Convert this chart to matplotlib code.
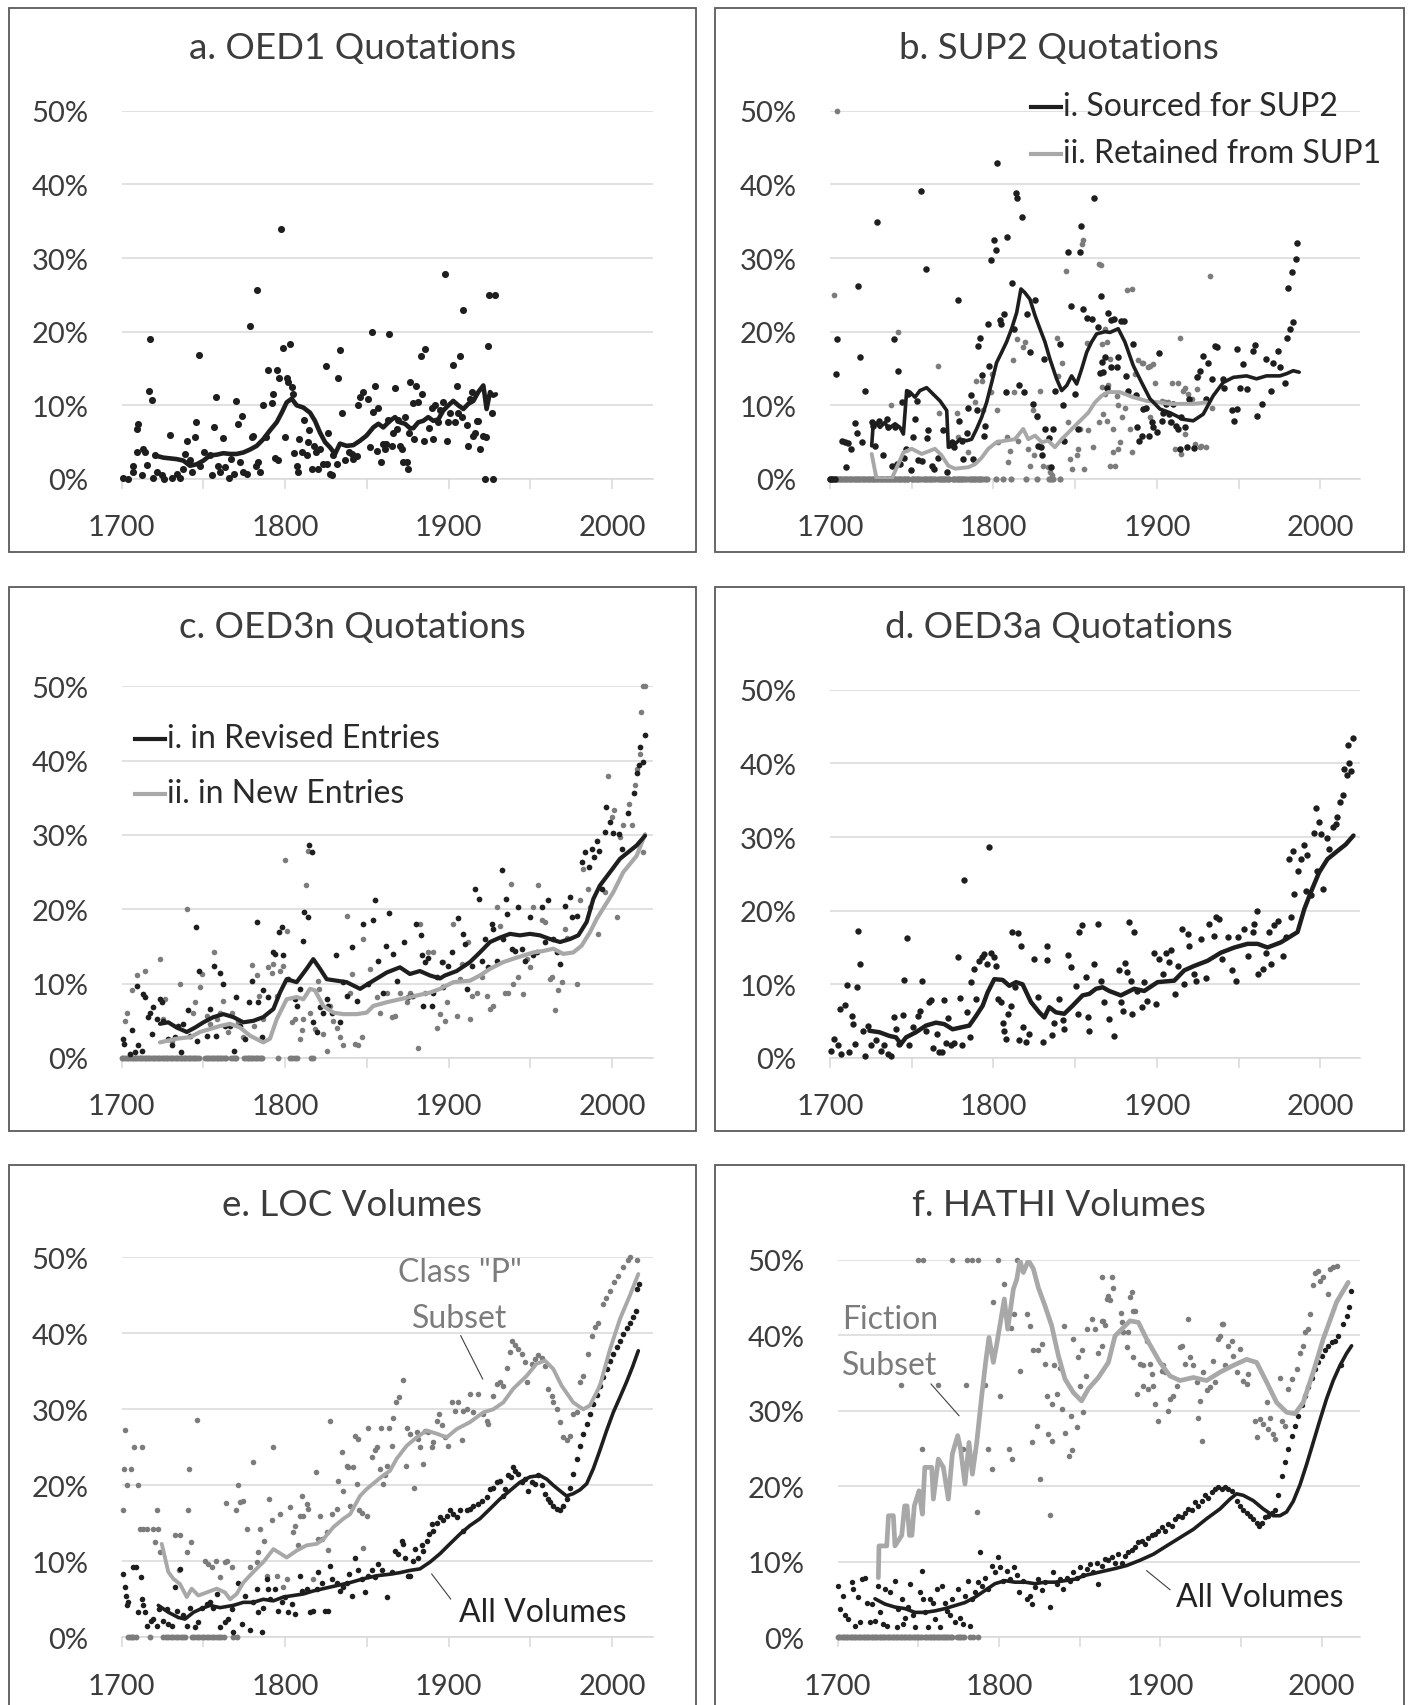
import matplotlib
matplotlib.use("Agg")
import matplotlib.pyplot as plt
from matplotlib.lines import Line2D
from matplotlib.patches import Rectangle

plt.rcParams['font.family'] = ['Lato', 'DejaVu Sans']

# ---------------- data (year, percent) ----------------
titles = ["a. OED1 Quotations", "b. SUP2 Quotations", "c. OED3n Quotations",
          "d. OED3a Quotations", "e. LOC Volumes", "f. HATHI Volumes"]
y_ticks = [0, 10, 20, 30, 40, 50]
y_labels = ["0%", "10%", "20%", "30%", "40%", "50%"]
x_ticks = [1700, 1750, 1800, 1850, 1900, 1950, 2000]
x_labels = ["1700", "", "1800", "", "1900", "", "2000"]

a_dots = [(1701,0.2),(1704.1,0),(1706.7,0.9),(1706.9,1.8),(1709.2,3.6),(1710.2,7.4),(1709.4,6.8),(1712.2,0.5),(1713.3,4.1),(1714.3,3.6),(1715.7,1.9),(1716.7,12.0),(1717.3,19.0),(1718.3,10.7),(1719.4,0.2),(1720.4,3.2),(1721.4,1.0),(1724.5,0.5),(1726.1,0),(1729.6,6.0),(1730.6,0.2),(1733.6,0.7),(1735.7,0.1),(1737.7,1.4),(1738.7,3.4),(1740.2,5.1),(1741.8,2.6),(1742.8,0.9),(1744.9,5.7),(1745.5,7.8),(1747.5,16.8),(1747.9,1.8),(1750.6,3.6),(1754,3.2),(1755,0.5),(1756.5,7.1),(1757.7,11.1),(1759.1,1.8),(1760.1,0.9),(1761.8,5.6),(1763.2,1.6),(1765.9,0.2),(1766.7,2.7),(1768.9,0.7),(1769.7,10.6),(1771.4,7.5),(1772.4,2.3),(1773.4,8.6),(1774.4,0.9),(1776.5,0.7),(1778.5,20.8),(1779.5,5.7),(1780.5,5.8),(1782,1.8),(1782.6,25.7),(1783.6,2.3),(1784.6,1.0),(1786.6,10.1),(1788,5.7),(1789.7,14.8),(1791.7,10.3),(1792.8,11.6),(1793.8,2.9),(1794.8,14.8),(1795.8,2.6),(1796.4,13.7),(1797.5,33.9),(1798.5,17.8),(1799.9,5.7),(1800.9,13.7),(1801.9,13.2),(1803,18.3),(1804,12.5),(1804.6,11.6),(1805.6,3.5),(1807,1.8),(1808,1.0),(1808.7,5.4),(1810.1,3.6),(1811.7,8.0),(1813.1,3.2),(1814.2,5.0),(1814.8,6.7),(1816.2,1.4),(1817.6,4.5),(1818.9,3.6),(1820.3,1.4),(1821.3,4.1),(1823.3,2.1),(1824.8,15.3),(1825.4,2.1),(1826.4,6.3),(1827.4,0.7),(1828.4,0.6),(1829.5,3.3),(1831.5,2.0),(1832.5,13.7),(1833.5,17.5),(1835,9.0),(1836.6,2.6),(1839.2,3.6),(1840.7,3.4),(1841.7,2.7),(1843.7,3.1),(1844.8,10.0),(1845.8,11.1),(1847.8,11.8),(1850.9,10.9),(1851.9,4.3),(1852.9,19.9),(1853.9,9.1),(1854.9,12.6),(1856,3.8),(1857,9.7),(1858.6,2.3),(1860,4.8),(1861,4.1),(1861.7,4.8),(1863.1,8.0),(1863.7,19.7),(1865.1,4.5),(1865.7,6.3),(1867.2,12.3),(1868.2,6.8),(1869.2,8.0),(1870.2,4.5),(1871.7,4.1),(1872.3,2.3),(1873.3,8.4),(1874.3,2.3),(1875.3,1.4),(1875.6,6.3),(1876.4,13.2),(1878,10.3),(1878.8,5.4),(1880,12.6),(1881.4,10.4),(1882.9,16.7),(1883.9,11.5),(1884.9,5.2),(1885.7,17.6),(1888.2,6.9),(1889.6,9.6),(1890.6,5.4),(1891.6,10.1),(1893.7,7.7),(1894.7,9.3),(1896.7,10.5),(1897.7,27.8),(1898.8,5.1),(1899.8,7.8),(1900.8,9.0),(1902.8,15.5),(1903.9,7.8),(1904.9,12.6),(1905.9,9.0),(1906.9,16.7),(1907.9,8.4),(1909,23.0),(1911,7.3),(1912,4.5),(1913,10.9),(1914,11.8),(1915.1,5.9),(1916.1,6.3),(1917.5,7.9),(1918.1,7.9),(1919.1,4.1),(1920.8,5.9),(1922.2,0),(1922.8,5.7),(1923.8,18.1),(1924.4,25.0),(1926.3,9.0),(1927.3,0),(1928.3,25.0)]
a_line = [(1720.4,3.2),(1725.5,2.9),(1729.6,2.8),(1733.6,2.7),(1737.7,2.5),(1741.8,1.8),(1745.9,2.0),(1750,2.5),(1754,3.2),(1758.1,3.3),(1762.2,3.5),(1766.3,3.4),(1770.3,3.4),(1774.4,3.6),(1778.5,4.0),(1782.6,4.5),(1786.6,5.4),(1790.7,6.6),(1794.8,7.7),(1797.9,9.0),(1800.9,10.4),(1804,10.9),(1807,10.0),(1811.1,9.7),(1815.2,9.0),(1818.2,7.9),(1821.3,6.3),(1824.4,5.0),(1827.4,4.3),(1830.5,3.4),(1833.5,4.8),(1837.6,4.5),(1841.7,4.6),(1845.8,5.2),(1849.8,5.9),(1853.9,7.0),(1857,7.5),(1860,7.0),(1864.1,7.9),(1867.2,8.4),(1870.2,7.7),(1873.3,7.5),(1876.3,6.9),(1878.4,6.9),(1881.4,7.7),(1884.5,7.9),(1887.5,8.4),(1890.6,7.9),(1893.7,8.1),(1896.7,9.3),(1899.8,10.0),(1902.8,10.6),(1905.9,10.0),(1909,9.5),(1912,10.2),(1915.1,10.6),(1918.1,11.8),(1921.2,12.7),(1923.2,9.5),(1925.3,11.8),(1927.3,11.3),(1928.9,11.5)]

b_black_dots = [(1700,0),(1701.5,0),(1703,0),(1704.1,19.0),(1703.5,14.3),(1707.1,5.2),(1709.2,5.0),(1709.6,1.6),(1711.2,4.9),(1712.8,4.1),(1715.3,7.6),(1716.3,6.2),(1717.3,26.2),(1718.3,16.6),(1719.4,5.0),(1721.4,11.9),(1725.5,7.7),(1726.5,7.2),(1727.5,4.5),(1728.5,34.9),(1730.2,7.9),(1732.6,3.3),(1734.7,8.1),(1735.7,7.1),(1737.7,1.8),(1739.3,19.0),(1739.8,7.0),(1740.8,2.0),(1741.4,14.6),(1742.8,2.0),(1744.2,10.4),(1745.5,2.9),(1746.5,4.1),(1747.5,11.5),(1749.5,1.2),(1750.6,5.7),(1752,8.1),(1753,10.6),(1754,2.6),(1755.7,39.1),(1756.1,2.5),(1758.5,28.5),(1759.1,5.5),(1760.1,6.6),(1762.2,1.7),(1763.6,1.4),(1766.3,2.9),(1769.3,6.7),(1771.4,0.9),(1774.4,5.0),(1776,4.4),(1778.5,24.3),(1778.9,7.9),(1780.5,5.2),(1781.5,2.7),(1783.6,6.3),(1784.6,9.6),(1786.2,11.4),(1787.7,2.7),(1789.7,9.3),(1790.7,18.1),(1791.7,19.2),(1792.8,14.1),(1794.4,5.9),(1794.8,7.2),(1796.4,21.0),(1797.5,15.4),(1798.5,29.7),(1800.5,32.4),(1801.5,31.1),(1802.3,42.9),(1804,21.6),(1804.6,21.0),(1806.4,22.4),(1807.6,11.8),(1808.5,32.8),(1811.5,26.6),(1812.7,20.4),(1813.8,38.8),(1814.6,38.1),(1815.6,12.7),(1817.6,35.6),(1818.7,11.8),(1820.7,22.4),(1822.3,17.2),(1824.4,10.2),(1825.4,24.3),(1826.4,8.6),(1827,4.5),(1828.8,4.4),(1829.5,3.2),(1831.1,16.3),(1831.5,6.8),(1833.9,5.5),(1835.2,1.6),(1836.6,6.8),(1837.6,12.0),(1840.7,18.3),(1842.7,10.0),(1843.3,5.1),(1845.8,30.8),(1847.4,23.5),(1849.8,11.5),(1851.9,6.8),(1852.9,30.8),(1853.5,34.3),(1854.9,23.1),(1857,21.9),(1860,21.7),(1861.7,38.1),(1863.7,20.7),(1865.1,14.4),(1865.7,24.8),(1866.6,15.9),(1867.1,14.5),(1868.2,16.5),(1869.2,12.4),(1870.2,22.5),(1871.9,21.6),(1871.9,15.2),(1873.7,21.7),(1875.3,15.2),(1876.3,16.5),(1877.7,21.4),(1879.8,21.4),(1881,14.0),(1882.4,12.0),(1885.5,18.3),(1887.1,11.4),(1887.9,7.0),(1889.2,5.2),(1890.6,5.9),(1891.6,9.5),(1893.6,9.7),(1895.3,5.9),(1896.7,7.7),(1897.7,7.0),(1899.8,6.4),(1901.4,17.1),(1902.8,7.9),(1903.8,9.0),(1905.3,10.2),(1907.3,8.8),(1908.3,7.7),(1910,10.2),(1911.6,7.2),(1913,6.8),(1914,4.1),(1915,8.4),(1917.1,7.1),(1918.1,4.3),(1919.7,10.9),(1922.6,4.2),(1924.6,13.8),(1926.3,14.7),(1928.3,16.7),(1930.3,10.9),(1931.4,15.8),(1933.4,13.6),(1935.4,18.1),(1936.9,17.9),(1940.1,13.6),(1940.9,12.4),(1945.6,9.3),(1947,7.9),(1948.7,9.5),(1949.1,17.6),(1950.7,12.4),(1952.8,15.6),(1954.8,12.2),(1958.5,17.4),(1959.9,18.2),(1961.3,8.6),(1964.4,10.2),(1967,16.3),(1969.5,12.0),(1971.1,15.8),(1974.2,17.4),(1975.2,15.2),(1978.3,13.1),(1979.3,19.2),(1981.3,20.4),(1983.4,21.3),(1980.3,25.9),(1982.3,28.1),(1984.8,29.9),(1985.8,32.0)]
b_gray_dots = [(1704.1,50.0),(1702.7,25.0),(1741.4,20.0),(1737.3,10.0),(1765.9,15.4),(1766.7,9.0),(1777.5,9.0),(1778.5,5.7),(1784.6,3.6),(1788.7,10.4),(1789.3,13.3),(1792.8,13.3),(1793.8,9.3),(1798.5,11.8),(1798.9,14.3),(1801.9,9.4),(1803,5.0),(1808,5.7),(1809.1,2.3),(1810.1,3.8),(1812.1,16.1),(1812.7,11.8),(1814.2,19.0),(1815.2,5.2),(1818.2,17.9),(1819.3,18.6),(1821.3,4.1),(1822.3,1.8),(1824.4,9.3),(1825,3.2),(1826.4,8.4),(1828.4,12.0),(1830.5,1.8),(1833.5,1.6),(1834.6,0.9),(1835.6,0.5),(1838.6,19.2),(1839.7,14.0),(1841.7,15.8),(1844.1,28.3),(1845.8,7.7),(1846.8,2.7),(1848.2,1.4),(1850.9,3.2),(1851.9,4.1),(1852.9,6.8),(1853.9,31.9),(1854.5,32.4),(1855.6,1.4),(1857,18.5),(1858,6.6),(1861,4.3),(1864.5,29.2),(1864.5,7.7),(1865.7,29.0),(1866.2,12.5),(1868.2,20.4),(1869.2,18.6),(1871.3,1.8),(1866.1,18.3),(1870.2,12.7),(1868.2,11.5),(1869.2,7.9),(1866.7,8.8),(1873.3,6.8),(1874.3,1.8),(1871.2,16.3),(1873.3,3.6),(1875.3,11.3),(1876.3,10.0),(1876.3,4.1),(1877.3,5.0),(1878.4,8.4),(1880.4,9.7),(1881.4,25.6),(1883.4,6.8),(1884.5,3.6),(1884.5,25.8),(1886.5,14.3),(1888.5,16.1),(1890.6,15.8),(1891.6,15.8),(1894.7,15.2),(1895.7,15.4),(1895.7,8.4),(1897.7,15.6),(1898.7,13.1),(1902.8,10.6),(1904.9,10.4),(1906.9,10.4),(1907.9,7.7),(1909.5,13.1),(1911,4.1),(1913,13.1),(1914,19.2),(1915,3.4),(1916.1,12.0),(1917.1,12.4),(1917.1,6.1),(1919.1,11.5),(1921.2,10.9),(1923.2,4.8),(1924.2,12.2),(1925.2,14.0),(1926.3,4.3),(1926.9,4.5),(1930,4.3),(1932.4,27.5),(1933.4,9.7)]
b_gray_zero_years = [1700,1701,1702,1703,1704,1705,1706,1707,1708,1709,1710,1711,1712,1713,1714,1715,1716,1717,1718,1719,1720,1721,1722,1723,1724,1725,1726,1727,1728,1729,1730,1731,1732,1733,1734,1735,1736,1737,1738,1739,1740,1741,1742,1743,1744,1745,1746,1747,1748,1750,1751,1752,1753,1754,1755,1757,1758,1759,1760,1761,1762,1763,1764,1766,1767,1768,1769,1770,1771,1772,1773,1775,1776,1777,1778,1779,1780,1781,1782,1783,1785,1786,1787,1788,1789,1790,1791,1792,1793,1795,1796,1801.5,1805.6,1810.7,1819.9,1826.6,1833.9,1835.2,1836.6,1840.7]
b_black_line = [(1725.5,4.5),(1726.5,7.7),(1728.5,7.5),(1730.6,7.0),(1733.6,7.7),(1735.7,6.8),(1739.8,7.5),(1742.8,7.0),(1744.9,6.1),(1746.9,12.0),(1748.9,11.8),(1752,11.1),(1755,12.0),(1759.1,12.4),(1763.2,11.5),(1767.3,10.6),(1771.4,9.3),(1772.4,4.3),(1775.4,4.5),(1779.5,5.4),(1783.6,5.2),(1786.6,5.4),(1789.7,6.8),(1792.8,8.4),(1795.8,10.4),(1798.9,13.1),(1801.9,15.8),(1805,17.2),(1808,18.6),(1811.1,20.4),(1814.2,22.6),(1816.8,25.8),(1819.2,25.3),(1822.3,24.4),(1825.4,22.2),(1828.4,20.4),(1831.5,18.6),(1834.5,16.3),(1838.6,13.6),(1841.7,12.0),(1844.8,12.7),(1847.8,14.0),(1850.9,12.9),(1853.9,14.9),(1857,17.2),(1860,18.6),(1863.1,19.7),(1868.2,20.0),(1871.3,19.9),(1876.3,20.4),(1880.4,18.6),(1885.5,15.4),(1890.6,13.1),(1895.7,10.9),(1901.8,9.5),(1907.9,9.0),(1916.1,8.1),(1922.2,7.9),(1928.3,8.8),(1934.4,11.3),(1940.5,13.1),(1946.7,13.8),(1954.8,14.0),(1960.9,13.6),(1967,14.0),(1975.2,14.0),(1979.3,14.3),(1983.3,14.7),(1987,14.5)]
b_gray_line = [(1725.5,3.4),(1728.5,0),(1737.7,0),(1744.9,3.6),(1750,4.1),(1756.1,3.4),(1764.2,4.1),(1768.3,3.2),(1772.4,1.8),(1776.5,1.4),(1784.6,1.6),(1788.7,2.0),(1792.8,2.9),(1796.8,4.1),(1801.9,5.0),(1807,5.2),(1813.1,5.4),(1818.2,6.8),(1821.3,5.4),(1825.4,5.9),(1829.5,5.0),(1833.5,5.2),(1837.6,4.3),(1841.7,5.4),(1845.8,6.3),(1849.8,7.2),(1853.9,8.1),(1858,9.0),(1862.1,10.4),(1866.2,11.3),(1870.2,11.8),(1877.3,11.8),(1885.5,11.1),(1893.6,10.6),(1901.8,10.4),(1907.9,10.2),(1914,10.2),(1922.2,10.2),(1930.3,10.4)]

c_black_dots = [(1701,2.6),(1701.4,1.9),(1705.1,0.6),(1706.1,3.7),(1708.2,0.8),(1709.2,9.7),(1710.2,1.7),(1712.2,1.0),(1713.3,8.6),(1714.3,8.2),(1716.3,5.5),(1717.3,6.1),(1718.3,3.2),(1719.4,6.8),(1721.4,5.2),(1723.4,7.9),(1724.5,7.5),(1725.5,5.0),(1728.5,2.6),(1730.6,1.7),(1732.6,2.8),(1734.7,4.3),(1736.1,0.8),(1737.7,4.6),(1740.4,6.4),(1741.8,3.0),(1745.5,17.6),(1746.3,2.3),(1747.5,11.7),(1752,3.0),(1754,6.6),(1756.5,12.4),(1757.7,3.0),(1760.1,11.5),(1761.8,10.0),(1763.2,4.3),(1766.3,4.3),(1768.7,1.0),(1769.7,8.2),(1772.4,4.3),(1775.4,2.6),(1778.1,7.5),(1779.5,10.3),(1782.6,18.3),(1783.6,7.5),(1785.6,2.8),(1786.6,9.1),(1789.7,8.2),(1792.8,14.3),(1793.8,14.0),(1796.4,16.9),(1797.9,17.6),(1798.9,13.9),(1801.9,10.6),(1806,7.9),(1807,7.0),(1809.1,9.3),(1810.7,15.8),(1811.7,19.7),(1813.8,18.9),(1814.6,28.6),(1816.2,27.7),(1816.8,4.8),(1819.3,3.5),(1821.3,6.8),(1823.3,6.1),(1825.4,7.9),(1826.4,7.0),(1828.4,6.1),(1831.1,13.8),(1833.5,4.8),(1835.6,10.2),(1837.6,8.4),(1840.7,14.9),(1843.7,7.7),(1847.8,18.0),(1850.9,10.0),(1853.9,18.5),(1854.9,21.2),(1857,13.1),(1859.6,8.8),(1861.7,15.1),(1863.7,19.5),(1866.2,14.0),(1868.2,10.4),(1872.9,15.6),(1875.3,8.2),(1877.4,8.4),(1880,18.0),(1882.9,16.5),(1883.5,13.8),(1884.5,7.0),(1885.5,12.9),(1887.5,13.5),(1889.6,7.0),(1890.6,8.8),(1892.6,10.9),(1895.7,12.9),(1896.7,9.5),(1899.8,12.4),(1901.8,14.2),(1905.9,18.8),(1909,16.7),(1910,15.3),(1911,9.3),(1914,12.4),(1916.1,22.8),(1918.7,21.4),(1920.2,13.1),(1922.2,16.0),(1924.2,12.2),(1926.3,18.0),(1927.3,17.4),(1929.3,13.1),(1932.4,25.3),(1933.4,16.0),(1935,21.4),(1935.9,19.4),(1938.5,14.7),(1940.6,14.4),(1942.6,20.3),(1944.6,14.7),(1946.7,13.1),(1949.7,18.9),(1951.8,13.8),(1953.8,14.2),(1956.9,20.3),(1958.9,15.6),(1960.9,21.2),(1964,16.0),(1966,14.2),(1968.1,12.6),(1971.1,20.5),(1974.2,21.6),(1975.2,18.9),(1978.3,19.1),(1981.3,26.3),(1983.4,27.7),(1986,25.7),(1987.4,28.1),(1988.9,27.0),(1990.5,29.2),(1992.1,27.9),(1993.6,22.7),(1995.6,30.4),(1996.2,33.7),(1998.7,31.7),(2000.3,30.3),(2004.4,30.1),(2005.8,28.1),(2009.9,33.0),(2013.5,35.6),(2015,38.3),(2016.6,39.4),(2017,41.9),(2019,39.8),(2020.1,43.4)]
c_gray_dots = [(1702,5.0),(1703.1,6.1),(1706.1,9.1),(1709.2,11.1),(1714.3,11.7),(1723.4,13.3),(1725.5,5.2),(1726.5,7.9),(1730.6,2.3),(1735.7,10.0),(1739.8,20.0),(1743.8,6.1),(1744.9,7.5),(1747.9,9.5),(1748.9,11.3),(1752,5.7),(1754,4.6),(1756.5,14.3),(1758.1,5.2),(1760.1,6.1),(1761.8,7.7),(1765.2,3.5),(1767.3,6.1),(1771.4,4.8),(1774.4,2.8),(1779.5,12.5),(1780.9,4.3),(1782.6,11.2),(1784.2,8.4),(1786.6,5.2),(1789.7,12.2),(1791.7,11.5),(1792.8,12.6),(1794.8,8.4),(1796.8,11.7),(1798.5,12.4),(1799.9,26.6),(1800.9,17.1),(1804,4.8),(1806,5.2),(1809.1,2.6),(1810.1,3.7),(1811.1,5.2),(1812.7,23.3),(1814.2,27.8),(1815.2,6.1),(1818.2,3.9),(1820.3,10.4),(1820.9,9.3),(1823.3,3.2),(1825.4,1.0),(1827.4,7.0),(1829.5,5.0),(1831.5,4.1),(1833.5,2.8),(1835.6,1.7),(1837.6,19.1),(1839.7,8.8),(1840.7,11.3),(1842.7,1.9),(1844.8,1.7),(1846.8,2.8),(1847.8,16.0),(1851.9,12.0),(1856,8.2),(1858,6.1),(1862.1,8.8),(1865.1,5.5),(1867.2,5.7),(1870.2,8.8),(1874.3,7.5),(1876.3,8.8),(1878.4,8.4),(1881.4,1.4),(1882.4,18.0),(1885.5,8.8),(1887.5,14.2),(1890.6,14.2),(1892.6,4.1),(1894.7,5.9),(1896.7,12.9),(1897.7,5.0),(1898.8,7.5),(1902.8,18.0),(1904.9,5.7),(1906.9,10.6),(1907.9,12.6),(1912,15.6),(1913,5.2),(1914,8.4),(1917.1,8.8),(1920.2,10.9),(1923.2,8.4),(1925.3,6.6),(1927.3,7.0),(1929.3,20.3),(1931.4,17.8),(1934.4,8.8),(1936.5,8.8),(1937.9,23.4),(1939.5,10.0),(1942.6,10.9),(1945.2,8.6),(1947.7,13.3),(1949.7,12.2),(1951.4,20.3),(1954.8,23.3),(1956.9,18.5),(1958.9,18.3),(1962,10.6),(1963,10.9),(1965,6.4),(1967.1,9.1),(1969.1,10.2),(1971.1,17.4),(1972.2,16.2),(1978.3,10.0),(1980.3,21.2),(1982.3,25.4),(1985.4,22.7),(1986.4,20.3),(1991.5,16.7),(1995.6,22.3),(1997.6,38.0),(1999.7,32.4),(2001.1,33.3),(2003.1,18.9),(2004.8,29.7),(2006.8,31.3),(2010.5,34.2),(2011.9,31.3),(2014,36.7),(2015,38.9),(2017,40.9),(2017.4,46.6),(2019,27.7),(2019,50.0),(2020.1,50.0)]
c_gray_zero_years = [1700,1701,1702,1703,1704,1705,1706,1707,1708,1709,1710,1711,1712,1713,1714,1715,1716,1717,1718,1719,1720,1721,1722,1723,1724,1725,1726,1727,1728,1729,1730,1731,1732,1733,1734,1735,1736,1737,1738,1739,1740,1741,1742,1743,1744,1745,1746,1747,1751,1752,1753,1754,1755,1756,1757,1758,1759,1760,1761,1762,1763,1764,1767,1768,1769,1770,1775,1776,1777,1778,1779,1780,1781,1782,1783,1784,1785,1786,1795.5,1803,1804,1806,1807,1815.5,1817]
c_black_line = [(1723.4,4.6),(1728.5,4.8),(1733.6,4.1),(1739.8,3.5),(1744.9,4.1),(1750,4.8),(1756.1,5.5),(1762.2,5.9),(1768.3,5.5),(1774.4,4.8),(1780.5,5.0),(1786.6,5.5),(1792.8,6.6),(1796.8,8.8),(1800.9,10.6),(1807,10.2),(1813.1,12.0),(1817.2,13.3),(1821.3,12.0),(1825.4,10.6),(1831.5,10.4),(1837.6,10.2),(1845.8,9.3),(1853.9,10.4),(1862.1,11.5),(1870.2,12.2),(1876.3,11.3),(1882.4,11.7),(1888.6,11.1),(1894.7,10.7),(1897.7,11.1),(1904.9,11.7),(1913,12.9),(1919.1,14.2),(1925.3,15.6),(1931.4,16.2),(1937.5,16.7),(1943.6,16.5),(1949.7,16.7),(1955.8,16.5),(1962,16.0),(1968.1,15.6),(1974.2,16.0),(1979.3,16.5),(1984.4,18.3),(1988.5,21.4),(1992.5,23.2),(1998.7,25.0),(2004.8,26.8),(2015,28.6),(2020.1,29.9)]
c_gray_line = [(1723.4,2.1),(1733.6,2.6),(1741.8,2.8),(1747.9,3.5),(1754,3.9),(1760.1,4.3),(1766.3,4.6),(1772.4,4.1),(1778.5,3.0),(1786.6,2.1),(1790.7,2.6),(1794.8,5.2),(1800.9,7.9),(1807,8.2),(1811.1,7.9),(1815.2,9.3),(1818.2,9.1),(1823.3,7.0),(1829.5,6.1),(1835.6,5.9),(1843.7,5.9),(1849.8,6.1),(1853.9,7.0),(1862.1,7.5),(1870.2,7.9),(1880.4,8.4),(1888.6,8.8),(1894.7,9.3),(1902.8,10.2),(1913,10.4),(1919.1,11.1),(1925.3,12.0),(1933.4,12.9),(1941.6,13.5),(1951.8,14.2),(1957.9,14.4),(1964,14.7),(1970.1,14.0),(1976.2,14.2),(1981.3,15.1),(1986.4,16.9),(1990.5,18.7),(1995.6,20.5),(2000.7,22.3),(2006.8,25.0),(2015,27.2),(2020.1,30.1)]

d_dots = [(1700.6,1.0),(1702.7,2.6),(1704.7,1.7),(1706.7,0.5),(1706,6.7),(1709.4,7.2),(1710.2,9.9),(1711.8,0.8),(1713.5,5.7),(1714.3,4.6),(1715.5,1.9),(1716.3,9.6),(1717.3,17.3),(1718.3,12.8),(1720.4,3.7),(1721.6,0.3),(1723,4.4),(1725,1.7),(1728,2.4),(1731,1.0),(1733.2,1.7),(1735.3,0.5),(1737.3,0.3),(1739.3,5.6),(1740.4,3.9),(1742.4,1.9),(1744.4,5.8),(1745.5,10.6),(1747,16.3),(1748.5,1.7),(1750.6,4.2),(1753.6,5.7),(1755,6.4),(1756.3,10.5),(1758.7,3.7),(1760.8,7.6),(1761.8,7.9),(1762.8,1.3),(1765.2,3.3),(1766.9,0.8),(1768.5,0.8),(1769.5,7.9),(1771,2.1),(1772,5.4),(1774,1.7),(1776,2.1),(1778.5,13.7),(1779.5,8.2),(1781,1.7),(1782,24.2),(1783.6,6.2),(1785.6,2.8),(1786.2,10.3),(1788.3,12.1),(1789.3,8.0),(1791.3,13.2),(1792.8,13.7),(1794.4,14.1),(1795.8,12.8),(1797.5,28.6),(1798.5,14.3),(1800.5,13.7),(1801.5,12.5),(1803,8.0),(1804.6,7.6),(1805.6,4.8),(1806.6,3.6),(1807.6,2.6),(1808.7,6.0),(1810.7,7.1),(1811.3,17.1),(1813.4,9.6),(1814.8,17.0),(1815.8,2.4),(1816.8,15.2),(1817.8,4.2),(1819.9,2.2),(1822,3.3),(1825,13.4),(1827,8.3),(1830,2.2),(1832.5,15.2),(1833,13.3),(1835.8,3.1),(1837.2,4.8),(1840.3,8.0),(1842.3,5.1),(1843.3,4.0),(1845.4,14.0),(1847.4,12.3),(1850.5,9.8),(1851.5,6.0),(1852.5,17.1),(1854,18.0),(1856.6,11.0),(1857.6,5.5),(1858.6,3.7),(1861.7,12.8),(1863.7,18.2),(1865.7,10.5),(1867.8,7.6),(1870.8,5.3),(1874,3.0),(1876.9,11.9),(1877.9,7.6),(1879,6.4),(1880.4,12.9),(1881.6,11.7),(1883,18.4),(1884,10.5),(1885,6.0),(1885.7,17.1),(1888,9.1),(1890.6,6.9),(1892.2,10.3),(1893.8,7.8),(1897.9,14.3),(1899.3,7.3),(1901.4,13.4),(1903.4,11.4),(1905.5,14.3),(1907.5,13.0),(1908.5,14.6),(1911,8.7),(1913,12.5),(1915.6,17.5),(1916.7,10.0),(1918.7,16.8),(1919.7,15.2),(1922.8,11.4),(1923.8,10.5),(1926.9,16.2),(1929.9,10.9),(1932,18.2),(1935,16.6),(1936,19.1),(1938,18.9),(1940,13.4),(1943.2,16.4),(1946.2,11.9),(1948.3,10.5),(1949.3,16.4),(1953.4,17.5),(1955.4,13.9),(1958.5,17.1),(1959.5,18.2),(1961,20.0),(1962,11.4),(1964.6,12.1),(1966.6,14.3),(1968.7,17.1),(1969.7,12.8),(1971.7,18.0),(1973.8,18.6),(1976.8,13.9),(1978.9,16.4),(1981.9,19.1),(1980.9,27.0),(1983,28.1),(1984,22.3),(1986,25.4),(1988,27.0),(1989.7,28.9),(1991,22.7),(1992,27.5),(1994,22.1),(1996,30.6),(1997,34.0),(1999,32.0),(1998,25.4),(2000.2,30.4),(2001.3,22.9),(2004.3,29.9),(2005.3,28.4),(2007.4,31.3),(2009.4,31.8),(2010.4,32.7),(2012,34.7),(2013.5,35.7),(2014.5,39.2),(2016.2,38.4),(2017.6,40.1),(2017,42.5),(2020.2,43.5),(2019,39.0)]
d_line = [(1724.1,3.7),(1730.2,3.5),(1736.3,3.0),(1740.4,2.8),(1743.4,1.9),(1746.5,2.8),(1752.6,3.5),(1758.7,4.4),(1764.8,4.8),(1769.9,4.6),(1775,3.9),(1781.1,4.2),(1785.2,4.4),(1789.3,5.7),(1793.4,7.1),(1796.4,8.9),(1800.5,10.7),(1805.6,10.6),(1809.7,9.8),(1813.8,10.3),(1817.8,10.0),(1822.9,7.6),(1828,6.2),(1831.1,5.5),(1834.1,6.9),(1838.2,6.2),(1843.3,6.0),(1848.4,7.1),(1854.5,8.5),(1858.6,8.7),(1862.7,9.4),(1866.8,9.6),(1870.8,9.1),(1877.9,8.5),(1886.1,9.4),(1892.2,9.1),(1900.4,10.3),(1910.6,10.5),(1916.7,11.9),(1922.8,12.5),(1931,13.2),(1939.1,14.3),(1947.3,15.0),(1955.4,15.5),(1961.5,15.5),(1967.6,15.0),(1975.8,15.7),(1986,17.1),(1990.1,20.2),(1994.1,22.5),(1999.2,25.2),(2004.3,27.0),(2010.4,28.1),(2015.5,29.0),(2020.2,30.2)]

e_black_dots = [(1701,8.3),(1702,6.6),(1702.7,5.5),(1704.1,4.6),(1703.5,4.2),(1707.1,9.3),(1708.8,9.3),(1711.6,7.9),(1710.2,3.3),(1712.2,5.0),(1713.3,4.2),(1714.3,3.3),(1715.7,1.5),(1717.7,2.2),(1719.4,2.4),(1721.4,1.5),(1723,3.7),(1725.5,2.2),(1727.5,3.7),(1728.5,1.8),(1730.6,1.5),(1732.6,6.6),(1733.6,3.5),(1735.7,9.0),(1737.7,2.9),(1739.8,1.5),(1741.8,3.9),(1744.9,1.3),(1746.9,2.0),(1748.9,3.9),(1752,4.4),(1754,4.6),(1756.1,3.9),(1758.1,5.7),(1760.1,1.3),(1763.2,2.0),(1765.2,2.4),(1767.3,3.7),(1768.3,0.7),(1771.4,7.2),(1773.4,1.8),(1775.4,5.5),(1778.5,0.9),(1780.5,4.6),(1782.6,6.4),(1783.6,3.3),(1785.6,0.7),(1786.6,3.9),(1788.7,7.7),(1789.7,6.4),(1790.7,5.0),(1793.8,6.4),(1795.8,3.5),(1797.9,4.6),(1799.9,5.3),(1801.9,3.3),(1804,4.4),(1806,3.1),(1809.1,8.1),(1810.1,6.1),(1813.1,6.4),(1815.2,3.3),(1817.2,3.5),(1819.3,6.4),(1820.3,8.6),(1822.3,7.2),(1824.4,3.5),(1826.4,3.5),(1827.4,9.4),(1828.4,7.7),(1831.5,7.2),(1833.5,6.1),(1835.6,6.6),(1837.6,7.2),(1839.2,8.3),(1840.7,5.5),(1842.7,10.5),(1844.8,8.8),(1846.8,7.7),(1848.8,5.9),(1850.9,8.1),(1852.9,8.8),(1854.9,7.9),(1857,9.6),(1859,8.8),(1862.1,5.3),(1865.1,8.6),(1867.2,11.4),(1869.2,11.0),(1871.3,12.7),(1872.3,12.3),(1873.3,10.5),(1874.9,8.1),(1876.3,8.1),(1878.4,10.1),(1879.4,11.6),(1881.4,10.5),(1883.5,12.1),(1884.5,11.4),(1886.5,12.7),(1888.2,13.6),(1889.6,14.9),(1890.6,14.0),(1892.6,15.1),(1894.7,15.8),(1896.7,15.4),(1898.8,16.0),(1900.8,16.7),(1902.8,16.2),(1904.9,15.8),(1906.9,16.7),(1909,14.0),(1911,16.7),(1913,16.9),(1915.1,17.3),(1918.1,17.5),(1920.2,18.0),(1923.2,18.4),(1925.3,19.5),(1927.3,19.7),(1929.3,20.4),(1931.4,20.6),(1933.4,18.6),(1934.4,19.5),(1936.5,21.3),(1937.9,21.1),(1939.5,22.4),(1940.6,21.9),(1942.6,21.5),(1944.6,20.4),(1946.7,20.8),(1948.7,19.3),(1950.7,20.4),(1952.8,20.2),(1954.8,21.3),(1956.9,20.0),(1958.9,18.9),(1960.9,18.2),(1962,17.8),(1964,17.3),(1966,16.9),(1968.1,16.7),(1970.1,17.3),(1972.2,18.2),(1974.2,19.7),(1976.2,21.5),(1978.3,23.5),(1980.3,25.2),(1982.3,26.7),(1984.4,28.1),(1986.4,29.4),(1988.5,30.7),(1990.5,31.9),(1992.5,33.1),(1994.6,34.2),(1996.6,35.3),(1998.7,36.3),(2000.7,37.3),(2002.7,38.2),(2004.8,39.0),(2006.8,39.9),(2008.9,40.7),(2010.9,41.4),(2013,42.2),(2014.6,43.0),(2015.4,45.8),(2016.4,46.5)]
e_gray_dots = [(1700.6,16.7),(1702,27.3),(1701.4,22.2),(1703.1,20.0),(1705.5,22.2),(1707.5,25.0),(1710.2,20.0),(1712.2,25.0),(1711.2,14.3),(1713.3,14.3),(1715.3,14.3),(1719.4,14.3),(1722.4,14.3),(1721.4,16.7),(1720.4,12.5),(1723.4,11.2),(1732.6,13.4),(1735.7,13.4),(1735.3,8.9),(1739.8,11.2),(1740.8,16.7),(1741.4,22.2),(1742.4,12.5),(1746.3,28.6),(1751,10.0),(1753,9.6),(1755,9.2),(1757.7,10.0),(1760.1,7.9),(1763.2,9.9),(1763.8,17.7),(1764.6,10.0),(1767.3,9.2),(1769.9,16.7),(1771.4,20.0),(1772.4,17.8),(1774,18.0),(1776.5,14.3),(1778.5,9.2),(1780.5,23.1),(1782.6,9.9),(1783.6,11.2),(1784.6,14.3),(1787.1,12.7),(1788.7,8.1),(1790.3,18.2),(1791.7,15.4),(1792.8,25.0),(1794.8,8.1),(1796.8,16.2),(1798.9,6.6),(1800.9,7.7),(1803,17.1),(1805,13.8),(1806,14.7),(1808.1,12.1),(1809.1,16.0),(1810.1,18.6),(1811.1,16.0),(1813.1,17.5),(1814.2,16.9),(1817.2,7.7),(1818.9,21.7),(1820.3,12.9),(1821.3,16.0),(1822.3,12.9),(1825.4,13.8),(1826.4,11.5),(1827.4,28.4),(1828.4,16.2),(1831.5,16.9),(1832.5,20.6),(1834.6,24.4),(1835.6,19.3),(1837.6,22.6),(1838.6,22.4),(1839.7,17.3),(1841.7,22.4),(1842.7,26.5),(1843.7,20.2),(1844.8,26.1),(1845.4,16.7),(1846.8,16.4),(1847.8,11.8),(1849.8,16.0),(1850.9,27.6),(1852.9,23.7),(1854.9,24.6),(1856,25.0),(1858,22.1),(1858.4,27.6),(1860,20.2),(1861,21.3),(1862.1,22.6),(1863.7,27.6),(1865.1,25.2),(1866.2,28.9),(1867.8,30.9),(1869.8,31.6),(1871.9,33.8),(1873.9,22.6),(1874.7,27.6),(1876.3,26.8),(1878.8,19.7),(1880.4,27.0),(1881.4,26.1),(1882.4,25.0),(1884.1,22.8),(1885.5,27.2),(1887.5,27.0),(1889.6,25.0),(1890.6,25.7),(1892.6,28.5),(1894.3,29.4),(1895.7,27.9),(1897.7,26.3),(1899.8,25.2),(1901.8,30.9),(1903.9,29.8),(1905.9,30.9),(1907.9,25.9),(1909,29.8),(1911.4,30.0),(1913,32.0),(1914.7,29.6),(1918.1,32.0),(1921.2,29.4),(1923.2,28.5),(1924.2,28.1),(1927.3,31.8),(1929.3,33.3),(1931.4,33.6),(1933.4,33.1),(1935.5,35.5),(1937.5,37.5),(1938.5,39.0),(1940.6,38.4),(1942.6,37.9),(1944.6,37.3),(1946.7,36.2),(1948.1,33.6),(1950.7,36.0),(1952.8,36.6),(1954.8,37.1),(1956.9,36.8),(1958.9,35.7),(1960.9,32.7),(1963,31.8),(1964,30.9),(1966,30.0),(1968.1,28.3),(1970.1,26.3),(1972.2,25.9),(1974.2,26.5),(1976.2,29.4),(1978.3,29.6),(1980.3,33.6),(1982.3,34.4),(1985.4,37.3),(1987.4,39.7),(1989.5,40.8),(1991.5,41.4),(1994.6,43.9),(1996.2,44.7),(1998.7,45.6),(2001.1,46.7),(2003.8,47.6),(2006.8,48.7),(2009.9,49.6),(2010.9,50.0),(2015,49.6)]
e_gray_zero_years = [1704,1705,1706,1707,1709,1717.3,1725.5,1727,1728.5,1730,1731.5,1733,1734.5,1736,1737.5,1739,1743,1744.5,1746,1747.5,1749,1750.5,1752,1753.5,1755,1756.5,1758,1759.5,1761,1762.5,1768.3,1770.3]
e_gray_line = [(1724.5,12.3),(1728.5,8.6),(1731.6,7.7),(1735.7,7.0),(1739.8,5.3),(1742.8,6.4),(1746.9,5.5),(1752,5.9),(1758.1,6.4),(1763.2,5.9),(1766.3,5.0),(1770.3,5.7),(1774.4,7.2),(1780.5,8.6),(1786.6,9.9),(1792.8,11.6),(1795.8,11.2),(1800.9,10.5),(1807,11.4),(1813.1,12.1),(1819.3,12.3),(1823.3,12.9),(1829.5,14.5),(1835.6,15.6),(1839.7,16.2),(1845.8,18.6),(1849.8,19.5),(1856,20.6),(1860,21.3),(1864.1,21.9),(1868.2,23.5),(1874.3,25.2),(1880.4,26.3),(1886.5,27.2),(1892.6,26.8),(1898.8,26.3),(1904.9,27.4),(1913,28.3),(1921.2,29.6),(1927.3,30.0),(1933.4,30.9),(1939.5,32.7),(1947.7,34.4),(1953.8,36.0),(1958.9,36.4),(1964,35.3),(1969.1,33.1),(1976.2,30.9),(1982.3,30.0),(1986.4,30.5),(1992.5,33.1),(1998.7,37.9),(2004.8,41.9),(2010.9,45.0),(2016,47.8)]
e_black_line = [(1722.4,4.2),(1728.5,3.3),(1734.7,2.6),(1738.7,2.4),(1744,3.3),(1748,3.7),(1754,4.2),(1760.1,3.9),(1768.3,4.2),(1774.4,4.6),(1780.5,4.6),(1786.6,5.0),(1792.8,4.8),(1798.9,5.3),(1805,5.5),(1811.1,5.7),(1817.2,6.1),(1823.3,6.4),(1831.5,6.8),(1839.7,7.2),(1847.8,7.7),(1856,8.1),(1864,8.3),(1870,8.5),(1876.3,8.8),(1882.4,9.0),(1888.6,9.9),(1894.7,11.0),(1900.8,12.3),(1907,13.6),(1913,14.7),(1919.1,15.6),(1925.3,16.9),(1931.4,18.2),(1937.5,19.3),(1943.6,20.4),(1949.7,21.1),(1955.8,21.3),(1960,20.8),(1964,20.0),(1969.1,19.1),(1972.1,18.6),(1976.2,18.9),(1980.3,19.4),(1984.4,20.2),(1988.5,22.2),(1992.5,24.6),(1996.6,27.2),(2000.7,29.6),(2004.8,31.6),(2008.8,33.6),(2012.5,35.6),(2016,37.7)]

f_black_dots = [(1700.4,6.8),(1701.5,3.8),(1703.5,5.5),(1704.5,2.9),(1706.6,2.4),(1708.7,7.3),(1709.7,6.4),(1710.7,1.5),(1712.8,5.3),(1713.8,2.0),(1714.9,7.7),(1717,7.9),(1718,4.6),(1720,2.0),(1721,4.4),(1723,2.2),(1725.2,6.8),(1726.2,3.3),(1728.3,1.8),(1729.3,6.4),(1730.4,1.5),(1732.4,6.0),(1735.5,7.5),(1736.6,1.3),(1737.6,3.8),(1739.7,5.1),(1740.7,1.8),(1741.7,2.6),(1743.8,4.0),(1744.8,7.1),(1746.9,2.9),(1747.9,1.3),(1751,6.0),(1752,8.8),(1753.1,5.1),(1754.1,3.3),(1756.2,1.3),(1757.2,5.1),(1759.3,4.6),(1760.3,2.4),(1761.4,6.4),(1763.4,1.3),(1764.5,6.8),(1766.5,4.6),(1767.6,3.5),(1769.6,2.9),(1770.7,5.1),(1772.7,2.0),(1774.4,6.4),(1775.8,2.6),(1777.9,1.8),(1778.9,5.5),(1781,7.5),(1782,1.5),(1783,5.1),(1785.1,6.0),(1787.2,7.3),(1788.2,11.3),(1789.3,6.8),(1791.3,7.9),(1793.4,6.4),(1795.5,9.5),(1797.5,8.6),(1799.2,10.6),(1800.6,9.3),(1802.7,7.5),(1804.8,8.8),(1806.8,7.7),(1809.5,9.3),(1811,8.2),(1812.4,6.0),(1815,7.5),(1817.1,5.1),(1819.2,5.5),(1820.2,4.4),(1822.3,6.6),(1824.4,7.7),(1826.4,6.2),(1828.5,7.3),(1831.6,4.0),(1833.7,8.6),(1835.7,7.1),(1837.8,7.7),(1839.9,6.4),(1841.9,7.9),(1844,7.5),(1846.1,8.6),(1848.1,7.9),(1850.2,9.3),(1852.3,8.2),(1854.3,9.0),(1856.4,9.7),(1858.5,8.6),(1860.5,9.9),(1861.6,7.1),(1863.6,9.5),(1865.7,10.4),(1867.8,10.2),(1869.8,10.6),(1871.9,9.9),(1874,11.0),(1876,9.9),(1878.1,10.8),(1880.2,11.3),(1882.2,11.5),(1884.3,11.9),(1886.4,12.6),(1888.4,12.8),(1890.5,12.4),(1892.6,13.2),(1894.6,13.5),(1896.7,13.7),(1898.8,14.1),(1900.8,14.6),(1902.9,14.1),(1905,15.0),(1907,14.8),(1909.1,15.7),(1911.2,16.1),(1913.2,15.9),(1915.3,16.5),(1917.4,17.0),(1919.4,16.8),(1921.5,17.9),(1923.5,17.4),(1925.6,18.1),(1927.7,18.8),(1929.7,18.5),(1931.8,19.2),(1933.9,19.6),(1935.9,19.9),(1938,19.6),(1940.1,19.9),(1942.1,19.6),(1944.2,19.4),(1947.3,18.1),(1949.4,17.4),(1951.4,16.8),(1953.5,16.5),(1955.6,16.1),(1957.6,15.7),(1959.7,15.2),(1961.4,14.8),(1962.8,15.2),(1964.9,15.9),(1966.9,16.1),(1969,16.5),(1971,16.8),(1973.1,18.8),(1975.2,21.4),(1977.3,23.2),(1979.3,24.9),(1981.4,26.7),(1983.5,28.0),(1985.5,29.3),(1987.6,30.7),(1989.7,32.0),(1991.7,33.1),(1993.8,34.4),(1995.9,35.5),(1997.9,36.4),(2000,37.3),(2002.1,38.0),(2004.1,38.6),(2006.2,39.1),(2008.3,39.3),(2010.3,39.9),(2011.8,36.0),(2013.4,41.5),(2015.5,42.6),(2017.1,43.7),(2018,45.9)]
f_gray_dots = [(1750,50),(1753.1,50),(1771,50),(1780,50),(1783,50),(1787.2,50),(1799.2,50),(1811,50),(1803.3,46.8),(1796.5,44.4),(1809.5,42.8),(1817.1,42.8),(1807.4,40.9),(1819.2,41.2),(1739.3,33.4),(1762.4,33.4),(1779.3,33.4),(1791.3,33.4),(1800.6,31.9),(1813,35.3),(1821.3,38.0),(1824,38.0),(1826.4,38.8),(1828.5,36.2),(1834.3,36.0),(1837.8,35.6),(1840.5,41.2),(1846,39.5),(1849.2,37.1),(1851.2,38.0),(1854.3,40.8),(1857.4,42.1),(1859.5,40.8),(1861.6,37.7),(1863.6,41.9),(1865.7,41.3),(1868.8,44.6),(1870.9,46.3),(1863.6,47.7),(1869.8,47.7),(1829.5,32.0),(1832.6,30.9),(1835.7,32.2),(1839.3,30.2),(1844.6,29.3),(1852.3,29.8),(1850.2,33.3),(1853.7,34.6),(1823.3,28.0),(1830.6,26.9),(1833,26.0),(1820.2,25.8),(1840.9,27.1),(1848.1,27.8),(1845,24.8),(1843.4,24.0),(1752.5,25.0),(1777.9,25.0),(1793,25.0),(1806.2,25.0),(1795.5,22.3),(1808.3,23.6),(1825.4,20.9),(1786.4,16.6),(1831.6,16.2),(1866.7,44.8),(1867.8,45.2),(1864.7,41.9),(1863.6,38.6),(1881.2,45.0),(1882.2,45.7),(1883.3,43.2),(1884.3,43.2),(1875.4,43.0),(1876,41.7),(1877.1,40.4),(1880.2,40.4),(1879.1,38.4),(1883.3,37.1),(1885.3,32.2),(1887.4,36.2),(1889.5,36.0),(1891.5,39.3),(1893.6,36.2),(1894.6,34.9),(1889.5,33.3),(1892.6,32.9),(1895.7,33.3),(1896.7,30.9),(1898.8,28.7),(1900.8,35.3),(1901.9,36.0),(1902.9,35.1),(1905,30.0),(1906,31.6),(1908.1,32.0),(1910.1,33.3),(1912.2,38.4),(1913.2,38.6),(1915.3,36.2),(1917.4,42.1),(1918.4,37.1),(1920.5,36.0),(1922.5,33.8),(1923.5,29.1),(1924.6,31.3),(1925.6,26.0),(1926.7,35.1),(1928.7,32.7),(1930.8,33.1),(1932.9,36.6),(1933.9,33.8),(1935.9,39.5),(1937,39.9),(1938,41.5),(1939.1,41.5),(1940.1,36.0),(1942.1,38.6),(1944.2,39.3),(1945.2,37.3),(1947.3,35.1),(1949.4,38.2),(1951.4,34.0),(1953.5,33.5),(1954.5,34.9),(1958.7,28.7),(1959.7,26.5),(1961.8,28.9),(1963.8,28.2),(1965.9,31.1),(1966.9,27.6),(1968,29.1),(1970,26.9),(1971.1,26.3),(1974.2,34.4),(1975.2,28.7),(1977.3,28.0),(1979.3,32.9),(1981.4,34.2),(1984.5,35.5),(1986.6,37.7),(1988.6,38.6),(1989.7,40.4),(1991.7,40.8),(1992.8,42.8),(1994.8,46.6),(1995.9,48.3),(1997.9,48.5),(1999,47.2),(2000.6,47.7),(2004.1,45.5),(2005.2,48.8),(2007.2,49.0),(2009.3,49.2)]
f_gray_zero_years = [1700,1701,1702,1703,1704,1705,1706,1707,1708,1709,1710,1711,1712,1713,1714,1715,1716,1717,1718,1719,1720,1721,1722,1723,1724,1725,1726,1727,1728,1729,1730,1731,1732,1733,1734,1735,1736,1737,1738,1739,1740,1741,1742,1743,1744,1745,1746,1747,1748,1749,1750,1751,1752,1754,1755,1756,1757,1758,1759,1760,1761,1762,1763,1764,1765,1766,1767,1768,1769,1770,1771,1774,1775,1776,1777,1778,1782,1784,1787]
f_gray_line = [(1725.2,7.9),(1725.6,12.1),(1730.4,12.1),(1731.5,16.1),(1734.5,16.1),(1735.5,12.1),(1739.7,13.5),(1741.5,17.4),(1743,17.4),(1744.5,13.5),(1746,13.5),(1747.5,17.4),(1750.4,19.4),(1752.5,16.3),(1754,22.5),(1758.3,22.5),(1759.3,18.3),(1762.4,23.6),(1765.5,22.5),(1768.6,18.3),(1771.1,24.3),(1774.4,26.7),(1776.2,24.9),(1778.9,20.3),(1781.4,25.8),(1783.5,21.6),(1786.2,25.8),(1789.3,32.0),(1791.7,36.4),(1793.8,39.7),(1796.5,36.4),(1798.6,38.8),(1803.3,44.8),(1805.4,40.8),(1808.9,46.1),(1811,47.4),(1813,49.9),(1815.1,48.3),(1818.2,49.9),(1821.3,48.8),(1824.4,46.3),(1828.5,43.9),(1832.6,41.3),(1836.8,37.3),(1840.9,34.2),(1846.1,32.4),(1851.2,31.3),(1855.4,32.9),(1861.6,34.4),(1867.8,36.4),(1871.9,39.9),(1881.2,41.9),(1886.4,41.7),(1891.5,39.5),(1899.8,36.4),(1906,34.6),(1912.2,34.0),(1920.5,34.4),(1928.7,34.0),(1937,35.1),(1945.2,36.0),(1953.5,36.8),(1959.7,36.4),(1965.9,33.8),(1972.1,31.1),(1978.3,29.8),(1983.5,29.6),(1988.6,31.1),(1994.8,35.1),(2001,39.5),(2009.3,44.4),(2016.5,47.0)]
f_black_line = [(1723.1,5.1),(1729.3,4.4),(1735.5,4.0),(1741.7,3.8),(1747.9,3.3),(1754.1,3.3),(1760.3,3.5),(1766.5,3.8),(1772.7,4.2),(1778.9,4.6),(1785.1,5.3),(1791.3,6.2),(1797.5,7.1),(1803.7,7.5),(1809.9,7.3),(1816.1,7.3),(1822.3,7.1),(1828.5,7.3),(1834.7,7.3),(1840.9,7.5),(1847.1,7.7),(1853.3,8.2),(1859.5,8.5),(1865.7,8.8),(1871.9,9.1),(1879.1,9.5),(1887.4,10.2),(1895.7,11.0),(1903.9,12.1),(1912.2,13.2),(1920.5,14.3),(1928.7,15.7),(1937,17.0),(1943.2,18.3),(1947.3,19.0),(1951.4,18.8),(1957.6,18.1),(1963.8,17.0),(1970,16.1),(1974.2,16.1),(1978.3,16.6),(1982.4,18.0),(1986.6,20.2),(1990.7,22.9),(1994.8,25.8),(1999,28.8),(2003.1,31.6),(2007.2,34.0),(2011.4,36.0),(2015.5,37.6),(2018.6,38.6)]

# ---------------- styling ----------------
W, H = 1408, 1706
BLACK = '#1e1e1e'
GRAYDOT = '#7c7c7c'
GRAYLINE = '#a8a8a8'
GRID = '#d9d9d9'
TXT = '#3c3c3c'
TS = 21

fig = plt.figure(figsize=(W / 100, H / 100), dpi=100)


def xy(pairs):
    return [p[0] for p in pairs], [p[1] for p in pairs]


def fx(x):
    return x / W


def fy(y):
    return 1 - y / H


def setup(x0, x1, y0, y1, xmax):
    ax = fig.add_axes([x0 / W, 1 - y1 / H, (x1 - x0) / W, (y1 - y0) / H])
    ax.set_xlim(1700, xmax)
    ax.set_ylim(0, 50)
    ax.set_yticks(y_ticks)
    ax.set_yticklabels(y_labels)
    ax.set_xticks(x_ticks)
    ax.set_xticklabels(x_labels)
    ax.grid(axis='y', color=GRID, lw=1.1)
    ax.set_axisbelow(True)
    for s in ['top', 'right', 'left']:
        ax.spines[s].set_visible(False)
    ax.spines['bottom'].set_color(GRID)
    ax.spines['bottom'].set_linewidth(1.1)
    ax.tick_params(axis='x', direction='out', length=7.5, width=1.1, color=GRID,
                   pad=18, labelsize=TS, labelcolor=TXT)
    ax.tick_params(axis='y', length=0, pad=24, labelsize=TS, labelcolor=TXT)
    ax.patch.set_visible(False)
    return ax


def box(x0, y0, x1, y1):
    fig.add_artist(Rectangle((fx(x0), fy(y1)), (x1 - x0) / W, (y1 - y0) / H,
                             transform=fig.transFigure, fill=False,
                             ec='#5a5a5a', lw=1.3))


def dots(ax, pairs, color, s, z=3):
    x, y = xy(pairs)
    ax.scatter(x, y, s=s, c=color, linewidths=0, clip_on=False, zorder=z)


def zeros(ax, years, color, s, z=3):
    ax.scatter(years, [0] * len(years), s=s, c=color, linewidths=0, clip_on=False, zorder=z)


def line(ax, pairs, color, lw, z=5):
    x, y = xy(pairs)
    ax.plot(x, y, color=color, lw=lw, zorder=z, solid_joinstyle='round', solid_capstyle='round')


def title(cx, cy, text):
    fig.text(fx(cx), fy(cy), text, ha='center', va='center', fontsize=26.5, color=TXT)


# panel boxes
box(8.7, 8.7, 696.4, 552.7)
box(714.9, 8.7, 1403.7, 552.7)
box(8.7, 587.6, 696.4, 1131.6)
box(714.9, 587.6, 1403.7, 1131.6)
box(8.7, 1166.4, 696.4, 1730)
box(714.9, 1166.4, 1403.7, 1730)

title(352.5, 48, titles[0])
title(1059.3, 48, titles[1])
title(352.5, 628, titles[2])
title(1059.3, 628, titles[3])
title(352.5, 1206, titles[4])
title(1059.3, 1206, titles[5])

# a
ax = setup(121.7, 652.7, 111.7, 480, 2024.8)
dots(ax, a_dots, BLACK, 26)
line(ax, a_line, BLACK, 3.3)

# b
ax = setup(830, 1360, 111.7, 480, 2024.2)
zeros(ax, b_gray_zero_years, GRAYDOT, 20)
dots(ax, b_gray_dots, GRAYDOT, 17)
dots(ax, b_black_dots, BLACK, 22, z=3)
line(ax, b_gray_line, GRAYLINE, 2.8, z=4)
line(ax, b_black_line, BLACK, 2.6, z=5)

# c
ax = setup(121.7, 652.7, 687.3, 1059, 2024.8)
zeros(ax, c_gray_zero_years, GRAYDOT, 18)
dots(ax, c_gray_dots, GRAYDOT, 16)
dots(ax, c_black_dots, BLACK, 17)
line(ax, c_gray_line, GRAYLINE, 3.0, z=4)
line(ax, c_black_line, BLACK, 3.0, z=5)

# d
ax = setup(830, 1360, 690.7, 1059, 2024.2)
dots(ax, d_dots, BLACK, 21)
line(ax, d_line, BLACK, 3.2)

# e
ax = setup(121.7, 652.7, 1258.3, 1638.3, 2024.8)
zeros(ax, e_gray_zero_years, GRAYDOT, 18)
dots(ax, e_gray_dots, GRAYDOT, 16)
dots(ax, e_black_dots, BLACK, 16)
line(ax, e_gray_line, GRAYLINE, 2.8, z=4)
line(ax, e_black_line, BLACK, 2.6, z=5)

# f
ax = setup(837.7, 1360, 1260.7, 1638.3, 2023.8)
zeros(ax, f_gray_zero_years, GRAYDOT, 18)
dots(ax, f_gray_dots, GRAYDOT, 16)
dots(ax, f_black_dots, BLACK, 15)
line(ax, f_gray_line, GRAYLINE, 3.4, z=4)
line(ax, f_black_line, BLACK, 2.6, z=5)


# legends / annotations (figure pixel positions)
def fline(x0, y0, x1, y1, color, lw):
    fig.add_artist(Line2D([fx(x0), fx(x1)], [fy(y0), fy(y1)], transform=fig.transFigure,
                          color=color, lw=lw))


def ftext(x, y, s, color, ha='left', size=TS + 2):
    fig.text(fx(x), fy(y), s, ha=ha, va='center', fontsize=size, color=color)


fline(1031, 108, 1061, 108, BLACK, 3)
ftext(1063, 107, "i. Sourced for SUP2", '#2a2a2a')
fline(1031, 155, 1061, 155, GRAYLINE, 3)
ftext(1063, 154, "ii. Retained from SUP1", '#2a2a2a')

fline(135, 740, 165, 740, BLACK, 3)
ftext(167, 739, "i. in Revised Entries", '#2a2a2a')
fline(135, 795, 165, 795, GRAYLINE, 3)
ftext(167, 794, "ii. in New Entries", '#2a2a2a')

ftext(460, 1273, 'Class "P"', GRAYDOT, ha='center')
ftext(460, 1319, 'Subset', GRAYDOT, ha='center')
fline(460.7, 1336.7, 482.7, 1380, '#404040', 0.8)
ftext(543, 1613, 'All Volumes', '#222222', ha='center')
fline(431.7, 1575, 450.7, 1600, '#404040', 0.8)

ftext(841.7, 1320, 'Fiction', GRAYDOT)
ftext(841.7, 1366, 'Subset', GRAYDOT)
fline(931, 1385, 959, 1416.7, '#404040', 0.8)
ftext(1260, 1598, 'All Volumes', '#222222', ha='center')
fline(1146.7, 1571.7, 1170, 1590.7, '#404040', 0.8)

fig.savefig('out.png', dpi=100)
